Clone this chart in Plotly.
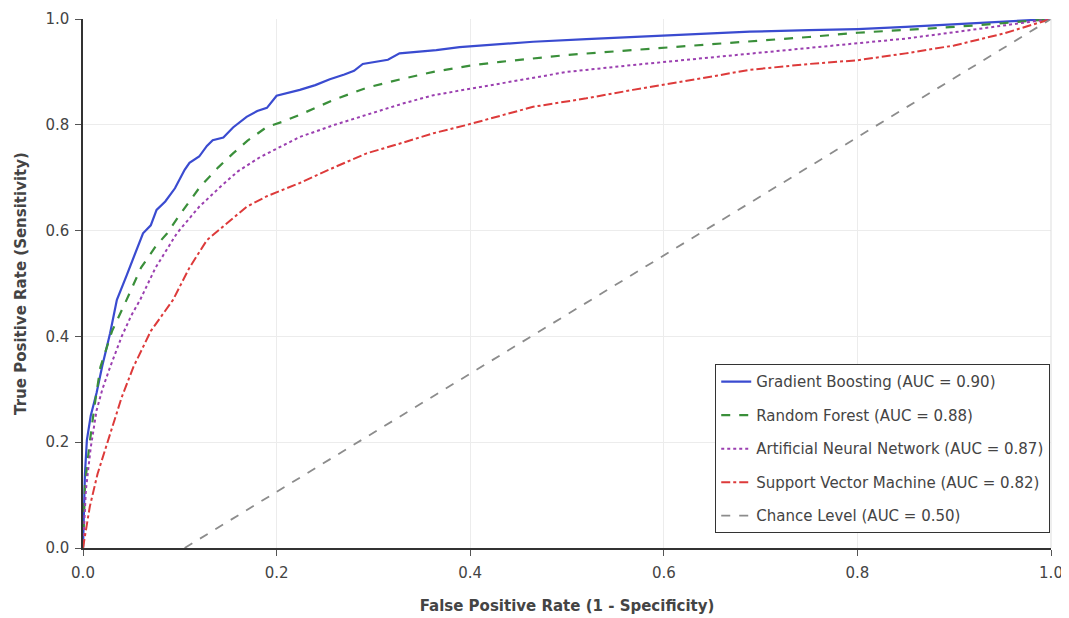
import plotly.graph_objects as go

# Gradient Boosting
gb_fpr = [0.0, 0.002, 0.004, 0.008, 0.014, 0.02, 0.028, 0.035, 0.045, 0.055, 0.062, 0.07, 0.076, 0.085, 0.095,
          0.105, 0.11, 0.12, 0.128, 0.134, 0.145, 0.155, 0.162, 0.169, 0.18, 0.19, 0.2, 0.212, 0.224, 0.24, 0.255,
          0.27, 0.28, 0.289, 0.3, 0.315, 0.327, 0.345, 0.365, 0.389, 0.42, 0.465, 0.52, 0.568, 0.63, 0.689,
          0.75, 0.8, 0.85, 0.9, 0.95, 1.0]
gb_tpr = [0.0, 0.14, 0.204, 0.25, 0.293, 0.345, 0.406, 0.469, 0.515, 0.56, 0.595, 0.61, 0.639, 0.655, 0.68,
          0.715, 0.728, 0.74, 0.76, 0.771, 0.776, 0.795, 0.805, 0.815, 0.826, 0.832, 0.855, 0.86, 0.866, 0.875,
          0.886, 0.895, 0.902, 0.915, 0.919, 0.923, 0.935, 0.938, 0.941, 0.947, 0.951, 0.957, 0.962, 0.966,
          0.971, 0.976, 0.979, 0.981, 0.985, 0.99, 0.994, 1.0]

# Random Forest
rf_fpr = [0.0, 0.002, 0.007, 0.012, 0.018, 0.03, 0.045, 0.06, 0.075, 0.087, 0.1, 0.121, 0.14, 0.155, 0.17,
          0.19, 0.205, 0.224, 0.26, 0.293, 0.33, 0.362, 0.4, 0.431, 0.5, 0.568, 0.63, 0.689, 0.75, 0.8, 0.85,
          0.9, 0.95, 1.0]
rf_tpr = [0.0, 0.12, 0.2, 0.27, 0.342, 0.41, 0.469, 0.53, 0.57, 0.595, 0.63, 0.683, 0.72, 0.746, 0.77,
          0.796, 0.805, 0.819, 0.848, 0.87, 0.887, 0.9, 0.912, 0.919, 0.932, 0.941, 0.949, 0.957, 0.966,
          0.974, 0.979, 0.985, 0.992, 1.0]

# Artificial Neural Network
ann_fpr = [0.0, 0.003, 0.008, 0.014, 0.02, 0.028, 0.04, 0.05, 0.059, 0.075, 0.097, 0.12, 0.142, 0.16, 0.183,
           0.2, 0.224, 0.26, 0.293, 0.33, 0.362, 0.4, 0.431, 0.5, 0.568, 0.63, 0.689, 0.75, 0.8, 0.85, 0.9,
           0.95, 1.0]
ann_tpr = [0.0, 0.11, 0.19, 0.26, 0.3, 0.342, 0.4, 0.44, 0.469, 0.53, 0.595, 0.645, 0.683, 0.712, 0.739,
           0.755, 0.777, 0.8, 0.819, 0.84, 0.856, 0.868, 0.879, 0.9, 0.913, 0.924, 0.935, 0.946, 0.955, 0.963,
           0.975, 0.987, 1.0]

# Support Vector Machine
svm_fpr = [0.0, 0.003, 0.007, 0.015, 0.028, 0.04, 0.052, 0.07, 0.093, 0.11, 0.128, 0.15, 0.169, 0.19, 0.214,
           0.224, 0.26, 0.293, 0.33, 0.362, 0.397, 0.43, 0.465, 0.52, 0.568, 0.63, 0.689, 0.75, 0.8, 0.85, 0.9,
           0.95, 1.0]
svm_tpr = [0.0, 0.03, 0.078, 0.14, 0.217, 0.285, 0.342, 0.41, 0.469, 0.53, 0.582, 0.615, 0.645, 0.665, 0.683,
           0.69, 0.72, 0.746, 0.766, 0.784, 0.8, 0.817, 0.834, 0.85, 0.866, 0.885, 0.904, 0.915, 0.922, 0.935,
           0.95, 0.972, 1.0]

# Chance level
chance_fpr = [0.105, 1.0]
chance_tpr = [0.0, 1.0]

labels = ["Gradient Boosting (AUC = 0.90)", "Random Forest (AUC = 0.88)",
          "Artificial Neural Network (AUC = 0.87)", "Support Vector Machine (AUC = 0.82)",
          "Chance Level (AUC = 0.50)"]

tick_vals = [0.0, 0.2, 0.4, 0.6, 0.8, 1.0]
tick_text = ["0.0", "0.2", "0.4", "0.6", "0.8", "1.0"]

fig = go.Figure()
series = [
    (gb_fpr, gb_tpr, labels[0], "#3a4bd0", "solid", 2.2),
    (rf_fpr, rf_tpr, labels[1], "#3a8f3a", "dash", 2.2),
    (ann_fpr, ann_tpr, labels[2], "#9b3fb0", "dot", 2.0),
    (svm_fpr, svm_tpr, labels[3], "#dd3a3a", "dashdot", 2.0),
    (chance_fpr, chance_tpr, labels[4], "#8c8c8c", "dash", 1.8),
]
for i, (x, y, name, color, dash, w) in enumerate(series):
    fig.add_trace(go.Scatter(x=x, y=y, mode="lines", name=name, legendgroup=f"g{i}",
                             line=dict(color=color, dash=dash, width=w)))

font_family = "DejaVu Sans, Verdana, sans-serif"
fig.update_layout(
    width=1069, height=618,
    margin=dict(l=75, r=26, t=11, b=78),
    plot_bgcolor="white", paper_bgcolor="white",
    font=dict(family=font_family, color="#444444", size=14),
    legend=dict(x=0.999, y=0.028, xanchor="right", yanchor="bottom",
                bordercolor="#333333", borderwidth=1.2, bgcolor="white",
                font=dict(size=15, color="#444444"), tracegroupgap=11),
    xaxis=dict(range=[0, 1], tickvals=tick_vals, ticktext=tick_text, automargin=False,
               showgrid=True, gridcolor="#ececec", gridwidth=1,
               showline=True, linecolor="#333333", linewidth=1.5, mirror=False,
               ticks="outside", ticklen=6, tickcolor="#555555", zeroline=False,
               ticklabelstandoff=4,
               title=dict(text="<b>False Positive Rate (1 - Specificity)</b>", font=dict(size=15, color="#444444"),
                          standoff=20),
               tickfont=dict(size=15)),
    yaxis=dict(range=[0, 1], tickvals=tick_vals, ticktext=tick_text, automargin=False,
               showgrid=True, gridcolor="#ececec", gridwidth=1,
               showline=True, linecolor="#333333", linewidth=1.5,
               ticks="outside", ticklen=6, tickcolor="#555555", zeroline=False,
               ticklabelstandoff=3,
               title=dict(text="<b>True Positive Rate (Sensitivity)</b>", font=dict(size=15, color="#444444"),
                          standoff=15),
               tickfont=dict(size=15)),
)
fig.add_shape(type="line", xref="paper", yref="paper", x0=1, x1=1, y0=0, y1=1,
              line=dict(color="#dddddd", width=1))

fig.write_html("out.html")
